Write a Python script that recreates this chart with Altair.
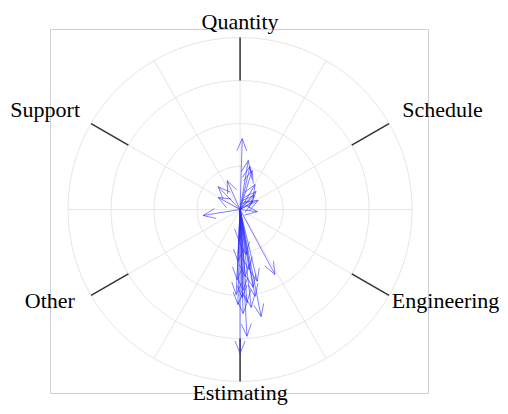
import altair as alt
import numpy as np
import pandas as pd

# ---- data (units: ring spacing = 1) ----
arrow_dx = [0.05, 0.19, 0.23, 0.28, -0.30, -0.51, -0.51, -0.86, 0.35, 0.37, 0.42, 0.40, 0.30, 0.33,
            0.81, 0.00, 0.16, 0.49, 0.07, 0.16, 0.35, -0.05, 0.07, 0.30, 0.40, 0.12, -0.07, 0.21,
            -0.05, -0.02, 0.14, 0.05, -0.09, 0.26]
arrow_dy = [1.65, 1.14, 1.00, 0.91, 0.67, 0.53, 0.28, -0.14, 0.58, 0.42, 0.21, -0.05, 0.19, 0.33,
            -1.51, -3.35, -2.95, -2.49, -2.42, -2.16, -2.02, -2.21, -1.88, -1.81, -1.67, -1.56, -1.63, -1.40,
            -1.21, -0.74, -1.05, -2.05, -1.98, -2.28]

categories = ["Quantity", "Schedule", "Engineering", "Estimating", "Other", "Support"]
cat_angles = [0, 60, 120, 180, 240, 300]  # degrees clockwise from north
label_angles = [0, 60.2, 123.1, 180, 239.1, 300.1]
label_radius = [4.21, 4.345, 4.213, 4.43, 4.476, 4.302]
ring_radii = [1, 2, 3, 4]
spoke_angles = list(range(0, 180, 30))

# ---- geometry helpers ----
head_len = 0.31
head_ang = np.deg2rad(22)

rows = []
for i, (x, y) in enumerate(zip(arrow_dx, arrow_dy)):
    rows.append(dict(x=0.0, y=0.0, x2=x, y2=y))
    phi = np.arctan2(y, x)
    for s in (1, -1):
        rows.append(dict(x=x, y=y,
                         x2=x - head_len * np.cos(phi + s * head_ang),
                         y2=y - head_len * np.sin(phi + s * head_ang)))
arrows = pd.DataFrame(rows)

circ = []
for r in ring_radii:
    for t in np.linspace(0, 2 * np.pi, 181):
        circ.append(dict(ring=r, t=t, x=r * np.cos(t), y=r * np.sin(t)))
circles = pd.DataFrame(circ)

spokes = pd.DataFrame([dict(x=4 * np.sin(np.deg2rad(a)), y=4 * np.cos(np.deg2rad(a)),
                            x2=-4 * np.sin(np.deg2rad(a)), y2=-4 * np.cos(np.deg2rad(a)))
                       for a in spoke_angles])

ticks = pd.DataFrame([dict(x=3 * np.sin(np.deg2rad(a)), y=3 * np.cos(np.deg2rad(a)),
                           x2=4 * np.sin(np.deg2rad(a)), y2=4 * np.cos(np.deg2rad(a)))
                      for a in cat_angles])

labels = pd.DataFrame([dict(label=c, x=r * np.sin(np.deg2rad(a)), y=r * np.cos(np.deg2rad(a)),
                            side=("center" if a in (0, 180) else ("left" if a < 180 else "right")))
                       for c, a, r in zip(categories, label_angles, label_radius)])

xs = alt.Scale(domain=[-4.42, 4.37], nice=False, zero=False)
ys = alt.Scale(domain=[-4.27, 4.20], nice=False, zero=False)
X = lambda f="x": alt.X(f"{f}:Q", scale=xs, axis=None)
Y = lambda f="y": alt.Y(f"{f}:Q", scale=ys, axis=None)

grid_color = "#e6e6e6"
circle_layer = alt.Chart(circles).mark_line(color=grid_color, strokeWidth=1).encode(
    x=X(), y=Y(), detail="ring:N", order="t:Q")
spoke_layer = alt.Chart(spokes).mark_rule(color=grid_color, strokeWidth=1).encode(
    x=X(), y=Y(), x2="x2:Q", y2="y2:Q")
tick_layer = alt.Chart(ticks).mark_rule(color="#333333", strokeWidth=1.5).encode(
    x=X(), y=Y(), x2="x2:Q", y2="y2:Q")
arrow_layer = alt.Chart(arrows).mark_rule(color="#2a2aff", strokeWidth=1, opacity=0.6).encode(
    x=X(), y=Y(), x2="x2:Q", y2="y2:Q")

text_layers = []
for side in ["center", "left", "right"]:
    text_layers.append(
        alt.Chart(labels).transform_filter(alt.datum.side == side)
        .mark_text(align=side, baseline="alphabetic", font="Liberation Serif", fontSize=22, color="#000000")
        .encode(x=X(), y=Y(), text="label:N")
    )

chart = alt.layer(circle_layer, spoke_layer, tick_layer, arrow_layer, *text_layers).properties(
    width=378, height=364,
    autosize=alt.AutoSizeParams(type="none"),
    padding={"left": 42, "top": 21, "right": 72, "bottom": 13},
).configure_view(stroke="#d0d0d0", strokeWidth=1)

chart.save("out.html", embed_options={"renderer": "svg", "actions": False})
